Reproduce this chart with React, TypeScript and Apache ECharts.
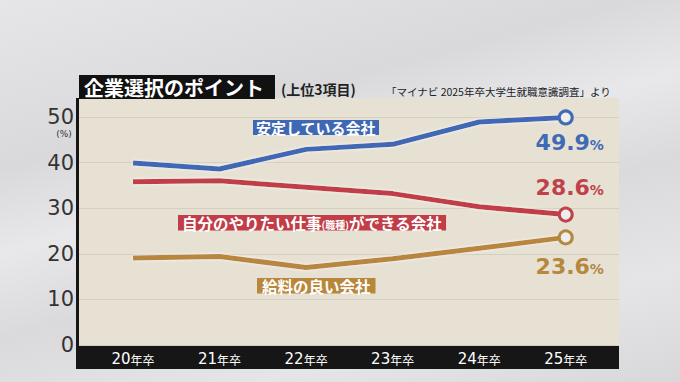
import React, { useEffect, useRef } from "react";
import * as echarts from "echarts";

const categories = ["20年卒", "21年卒", "22年卒", "23年卒", "24年卒", "25年卒"];
const stableValues = [39.9, 38.6, 42.9, 44.0, 48.9, 49.9];
const jobValues = [35.8, 36.0, 34.6, 33.2, 30.3, 28.6];
const salaryValues = [19.1, 19.4, 17.0, 18.9, 21.2, 23.6];
const yTicks = [0, 10, 20, 30, 40, 50];

const seriesNames = ["安定している会社", "自分のやりたい仕事(職種)ができる会社", "給料の良い会社"];
const lineColors = ["#3f68b4", "#c13d47", "#b8873c"];
const textColors = ["#3f6bb5", "#c0414b", "#b5873f"];

const JP = '"Noto Sans CJK JP", "Noto Sans", sans-serif';
const NUM = '"DejaVu Sans", sans-serif';

function withEnd(values: number[], color: string, pos: string, dist: number) {
  return values.map((v, i) => {
    if (i !== values.length - 1) return v;
    return {
      value: v,
      symbol: "circle",
      symbolSize: 13,
      itemStyle: { color: "#eeeeee", borderColor: color, borderWidth: 3 },
      label: {
        show: true,
        position: pos,
        distance: dist,
        offset: [4, 0],
        formatter: (p: any) => `{v|${p.value.toFixed ? p.value.toFixed(1) : p.value}}{p|%}`,
        rich: {
          v: { fontFamily: NUM, fontWeight: "bold", fontSize: 22, color },
          p: { fontFamily: NUM, fontWeight: "bold", fontSize: 14, color, padding: [5, 0, 0, 0] },
        },
      },
    };
  });
}

export default function App() {
  const ref = useRef<HTMLDivElement>(null);
  useEffect(() => {
    if (!ref.current) return;
    const chart = echarts.init(ref.current, undefined, { renderer: "svg" });
    const ends: [string, number][] = [
      ["bottom", 6],
      ["top", 8],
      ["bottom", 10],
    ];
    const data = [stableValues, jobValues, salaryValues];
    chart.setOption({
      animation: false,
      grid: [
        { left: 79, right: 61, top: 117, bottom: 37 },
        { left: 89.75, right: 71, top: 117, bottom: 37 },
      ],
      xAxis: [
        { type: "category", gridIndex: 0, data: categories, show: false },
        {
          type: "category",
          gridIndex: 1,
          data: categories,
          boundaryGap: true,
          axisLine: { show: false },
          axisTick: { show: false },
          axisLabel: {
            interval: 0,
            margin: 6,
            color: "#ffffff",
            formatter: (v: string) => `{n|${v.slice(0, 2)}}{y|${v.slice(2)}}`,
            rich: {
              n: { fontFamily: NUM, fontSize: 15, color: "#ffffff" },
              y: { fontFamily: JP, fontSize: 12, color: "#ffffff", padding: [1, 0, 0, 0] },
            },
          },
        },
      ],
      yAxis: [
        {
          type: "value",
          gridIndex: 0,
          min: yTicks[0],
          max: yTicks[yTicks.length - 1],
          interval: 10,
          axisLine: { show: false },
          axisTick: { show: false },
          axisLabel: { margin: 5, fontFamily: NUM, fontSize: 21, color: "#333333" },
          splitLine: { lineStyle: { color: "#d5cfc2", width: 1 } },
        },
        { type: "value", gridIndex: 1, min: 0, max: 50, show: false },
      ],
      graphic: [
        { type: "rect", z: -10, shape: { x: 79, y: 98, width: 540, height: 248 }, style: { fill: "#e7e1d4" } },
        { type: "rect", z: -5, shape: { x: 76, y: 346, width: 543, height: 23 }, style: { fill: "#161616" } },
        { type: "rect", z: -5, shape: { x: 76, y: 98, width: 3, height: 271 }, style: { fill: "#161616" } },
        { type: "rect", z: -5, shape: { x: 79, y: 75, width: 196, height: 24 }, style: { fill: "#111111" } },
        {
          type: "text",
          z: 50,
          x: 84,
          y: 87,
          style: { text: "企業選択のポイント", fill: "#ffffff", font: `bold 20px ${JP}`, verticalAlign: "middle" },
        },
        {
          type: "text",
          z: 50,
          x: 281,
          y: 89,
          style: { text: "(上位3項目)", fill: "#222222", font: `bold 14px ${JP}`, verticalAlign: "middle" },
        },
        {
          type: "text",
          z: 50,
          x: 386,
          y: 91,
          style: { text: "「マイナビ 2025年卒大学生就職意識調査」より", fill: "#222222", font: `10.5px ${JP}`, verticalAlign: "middle" },
        },
        {
          type: "text",
          z: 50,
          x: 64,
          y: 134,
          style: { text: "(%)", fill: "#333333", font: `9px ${NUM}`, align: "center", verticalAlign: "middle" },
        },
        {
          type: "text",
          z: 50,
          x: 253,
          y: 120,
          style: {
            text: seriesNames[0],
            fill: "#ffffff",
            font: `bold 15px ${JP}`,
            backgroundColor: "#3f68b4",
            padding: [0, 3, 0, 3],
            verticalAlign: "top",
          },
        },
        {
          type: "text",
          z: 50,
          x: 178,
          y: 215,
          style: {
            text: "自分のやりたい仕事{s|(職種)}ができる会社",
            fill: "#ffffff",
            font: `bold 15.5px ${JP}`,
            backgroundColor: "#c13d47",
            padding: [0, 4, 0, 4],
            verticalAlign: "top",
            rich: { s: { fill: "#ffffff", font: `bold 10px ${JP}`, padding: [3, 0, 0, 0] } },
          },
        },
        {
          type: "text",
          z: 50,
          x: 257,
          y: 278,
          style: {
            text: seriesNames[2],
            fill: "#ffffff",
            font: `bold 15.5px ${JP}`,
            backgroundColor: "#b8873c",
            padding: [0, 5, 0, 5],
            verticalAlign: "top",
          },
        },
      ],
      series: data.map((vals, i) => ({
        name: seriesNames[i],
        type: "line",
        xAxisIndex: 1,
        yAxisIndex: 1,
        symbol: "none",
        z: 10,
        data: withEnd(vals, textColors[i], ends[i][0], ends[i][1]),
        lineStyle: {
          color: lineColors[i],
          width: 5,
          shadowColor: "rgba(255,255,255,0.9)",
          shadowBlur: 3,
        },
        itemStyle: { color: lineColors[i] },
      })),
    });
    return () => chart.dispose();
  }, []);
  return (
    <div
      style={{
        position: "fixed",
        left: 0,
        top: 0,
        width: 680,
        height: 382,
        background:
          "linear-gradient(165deg, #e6e6e8 0%, #d9d9db 30%, #e8e8ea 45%, #dadadc 60%, #e5e5e7 80%, #d8d8da 100%)",
      }}
    >
      <div ref={ref} style={{ width: 680, height: 382 }} />
    </div>
  );
}
